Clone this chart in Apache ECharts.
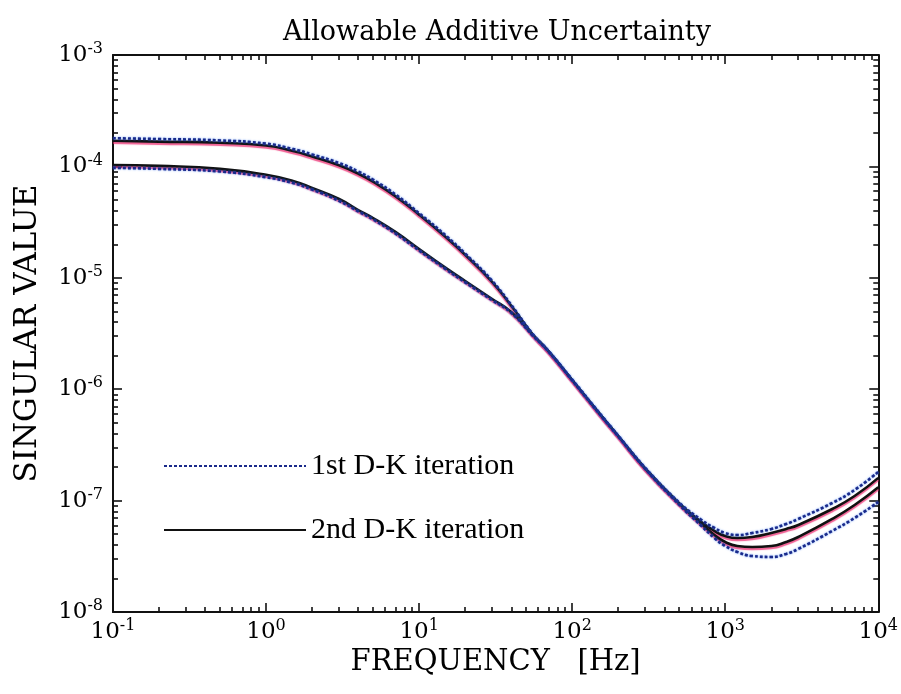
<!DOCTYPE html>
<html>
<head>
<meta charset="utf-8">
<title>Allowable Additive Uncertainty</title>
<script src="https://cdn.jsdelivr.net/npm/echarts@6/dist/echarts.min.js"></script>
<style>
html, body { margin: 0; padding: 0; background: #fff; }
#chart { width: 901px; height: 694px; }
</style>
</head>
<body>
<div id="chart"></div>
<script>
// frequency points [Hz]
var freq = [0.1, 0.2, 0.5, 1, 1.5, 2, 3, 4, 5, 7, 10, 15, 20, 30, 40, 55, 70, 100,
  150, 200, 300, 500, 700, 850, 1000, 1200, 1500, 2000, 2500, 3000, 5000, 7000, 10000];

// 1st D-K iteration (upper / lower singular value)
var iter1Upper = [1.79e-4, 1.76e-4, 1.71e-4, 1.60e-4, 1.43e-4, 1.28e-4, 1.07e-4, 9.0e-5, 7.6e-5, 5.6e-5,
  3.8e-5, 2.38e-5, 1.65e-5, 9.4e-6, 5.7e-6, 3.15e-6, 2.2e-6, 1.22e-6, 6.15e-7, 3.82e-7,
  1.97e-7, 9.6e-8, 6.7e-8, 5.68e-8, 5.12e-8, 4.91e-8, 5.12e-8, 5.56e-8, 6.16e-8, 6.84e-8, 9.52e-8, 1.245e-7, 1.81e-7];
var iter1Lower = [9.7e-5, 9.5e-5, 9.0e-5, 8.0e-5, 7.1e-5, 6.2e-5, 4.9e-5, 3.95e-5, 3.35e-5, 2.5e-5,
  1.76e-5, 1.19e-5, 9.1e-6, 6.3e-6, 4.85e-6, 3.05e-6, 2.18e-6, 1.2e-6, 6.05e-7, 3.77e-7,
  1.93e-7, 9.2e-8, 5.92e-8, 4.61e-8, 3.91e-8, 3.46e-8, 3.18e-8, 3.12e-8, 3.32e-8, 3.68e-8, 5.34e-8, 6.98e-8, 9.71e-8];

// 2nd D-K iteration
var iter2Upper = [1.70e-4, 1.67e-4, 1.63e-4, 1.54e-4, 1.375e-4, 1.23e-4, 1.025e-4, 8.62e-5, 7.3e-5, 5.41e-5,
  3.69e-5, 2.31e-5, 1.61e-5, 9.21e-6, 5.61e-6, 3.13e-6, 2.2e-6, 1.21e-6, 6.1e-7, 3.8e-7,
  1.95e-7, 9.5e-8, 6.43e-8, 5.34e-8, 4.81e-8, 4.61e-8, 4.71e-8, 5.12e-8, 5.56e-8, 6.04e-8, 8.41e-8, 1.10e-7, 1.60e-7];
var iter2Lower = [1.03e-4, 1.01e-4, 9.5e-5, 8.4e-5, 7.4e-5, 6.4e-5, 5.1e-5, 4.06e-5, 3.44e-5, 2.58e-5,
  1.81e-5, 1.22e-5, 9.36e-6, 6.45e-6, 4.93e-6, 3.1e-6, 2.2e-6, 1.21e-6, 6.1e-7, 3.8e-7,
  1.94e-7, 9.4e-8, 6.16e-8, 4.91e-8, 4.25e-8, 3.91e-8, 3.83e-8, 3.91e-8, 4.25e-8, 4.71e-8, 6.84e-8, 9.13e-8, 1.32e-7];

var legendNames = ["1st D-K iteration", "2nd D-K iteration"];

function pairs(ys) {
  return freq.map(function (f, i) { return [f, ys[i]]; });
}

function powLabel(v) {
  var e = Math.round(Math.log10(v));
  return "{b|10}{s|" + e + "}";
}

var serif = "DejaVu Serif";
var labelRich = {
  b: { fontFamily: serif, fontSize: 23, color: "#000", lineHeight: 28 },
  s: { fontFamily: serif, fontSize: 16, color: "#000", lineHeight: 16, verticalAlign: "top" }
};

var tickStyle = { color: "#111", width: 1.6 };

function logX(pos, main) {
  return {
    type: "log",
    logBase: 10,
    min: 0.1,
    max: 10000,
    position: pos,
    name: main ? "FREQUENCY   [Hz]" : "",
    nameLocation: "middle",
    nameGap: 36,
    nameTextStyle: { fontFamily: serif, fontSize: 29, color: "#000" },
    axisLine: { show: true, onZero: false, lineStyle: { color: "#111", width: 2 } },
    axisTick: { show: true, inside: true, length: 9, lineStyle: tickStyle },
    minorTick: { show: true, splitNumber: 9, length: 5, lineStyle: tickStyle },
    axisLabel: { show: main, margin: 6, formatter: powLabel, rich: labelRich },
    splitLine: { show: false },
    minorSplitLine: { show: false }
  };
}

function logY(pos, main) {
  return {
    type: "log",
    logBase: 10,
    min: 1e-8,
    max: 1e-3,
    position: pos,
    name: main ? "SINGULAR VALUE" : "",
    nameLocation: "middle",
    nameGap: 70,
    nameTextStyle: { fontFamily: serif, fontSize: 31, color: "#000" },
    axisLine: { show: true, onZero: false, lineStyle: { color: "#111", width: 2 } },
    axisTick: { show: true, inside: true, length: 9, lineStyle: tickStyle },
    minorTick: { show: true, splitNumber: 9, length: 5, lineStyle: tickStyle },
    axisLabel: { show: main, margin: 10, formatter: powLabel, rich: labelRich },
    splitLine: { show: false },
    minorSplitLine: { show: false }
  };
}

// 1st iteration: blue dotted, 2nd: black solid with a reddish smear
var firstStyle = { color: "#1a2a8a", width: 2.6, type: [3, 2], shadowColor: "rgba(40,110,240,0.8)", shadowBlur: 2 };
var secondStyle = { color: "#111", width: 2.6, type: "solid", shadowColor: "rgba(235,40,110,0.75)", shadowBlur: 1, shadowOffsetY: 2 };

function line(name, ys, style) {
  return {
    name: name,
    type: "line",
    smooth: 0.5,
    showSymbol: false,
    symbol: "none",
    xAxisIndex: 0,
    yAxisIndex: 0,
    itemStyle: { color: style.color },
    lineStyle: style,
    data: pairs(ys),
    z: style.type === "solid" ? 3 : 4
  };
}

var chart = echarts.init(document.getElementById("chart"), null, { renderer: "canvas" });

var option = {
  backgroundColor: "#fff",
  animation: false,
  title: {
    text: "Allowable Additive Uncertainty",
    left: 278,
    top: 14,
    textStyle: { fontFamily: serif, fontSize: 27, fontWeight: "normal", color: "#000" }
  },
  legend: {
    data: legendNames,
    orient: "vertical",
    left: 158,
    top: 446,
    itemWidth: 142,
    itemHeight: 14,
    itemGap: 34,
    itemStyle: { opacity: 0 },
    textStyle: { fontFamily: "Liberation Serif", fontSize: 30, color: "#000" }
  },
  grid: { left: 113, right: 18, top: 55, bottom: 82, containLabel: false },
  xAxis: [logX("bottom", true), logX("top", false)],
  yAxis: [logY("left", true), logY("right", false)],
  series: [
    line(legendNames[1], iter2Upper, secondStyle),
    line(legendNames[1], iter2Lower, secondStyle),
    line(legendNames[0], iter1Upper, firstStyle),
    line(legendNames[0], iter1Lower, firstStyle)
  ]
};

chart.setOption(option);
</script>
</body>
</html>
